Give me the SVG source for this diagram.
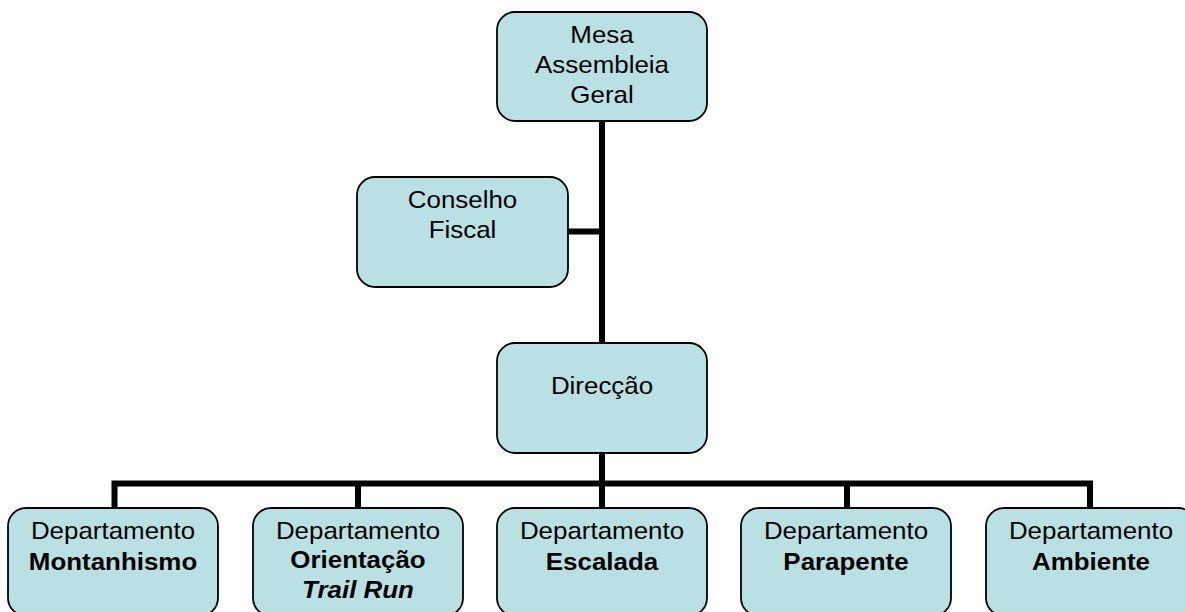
<svg xmlns="http://www.w3.org/2000/svg" width="1185" height="612" viewBox="0 0 1185 612">
<style>
.box{fill:#B9E0E3;stroke:#000;stroke-width:1.8}
.t{font-family:"Liberation Sans",Arial,sans-serif;font-size:24px;fill:#000;text-anchor:middle}
.b{font-weight:bold}
.i{font-style:italic;font-weight:bold}
.c{fill:none;stroke:#000;stroke-width:6;stroke-linecap:butt}
</style>
<rect width="1185" height="612" fill="#fff"/>
<g id="connectors">
<path class="c" d="M602 121 V343 M602 453 V486.5"/>
<path class="c" d="M568 231.5 H602"/>
<path class="c" d="M114.5 508 V483.5 H1090 V508 M358 483.5 V508 M602 483.5 V508 M847 483.5 V508"/>
</g>
<g id="mesa">
<rect class="box" x="497" y="12" width="210" height="109" rx="18"/>
<text class="t" transform="translate(602,0) scale(1.08,1)"><tspan x="0" y="43">Mesa</tspan><tspan x="0" y="73">Assembleia</tspan><tspan x="0" y="103">Geral</tspan></text>
</g>
<g id="conselho">
<rect class="box" x="357" y="177" width="211" height="110" rx="18"/>
<text class="t" transform="translate(462.5,0) scale(1.08,1)"><tspan x="0" y="208">Conselho</tspan><tspan x="0" y="238">Fiscal</tspan></text>
</g>
<g id="direccao">
<rect class="box" x="497" y="343" width="210" height="110" rx="18"/>
<text class="t" transform="translate(602,0) scale(1.08,1)"><tspan x="0" y="394">Direcção</tspan></text>
</g>
<g id="montanhismo">
<rect class="box" x="8" y="508" width="210" height="108" rx="18"/>
<text class="t" transform="translate(113,0) scale(1.08,1)"><tspan x="0" y="539">Departamento</tspan><tspan class="b" x="0" y="570">Montanhismo</tspan></text>
</g>
<g id="orientacao">
<rect class="box" x="253" y="508" width="210" height="108" rx="18"/>
<text class="t" transform="translate(358,0) scale(1.08,1)"><tspan x="0" y="539">Departamento</tspan><tspan class="b" x="0" y="568">Orientação</tspan><tspan class="i" x="0" y="598">Trail Run</tspan></text>
</g>
<g id="escalada">
<rect class="box" x="497" y="508" width="210" height="108" rx="18"/>
<text class="t" transform="translate(602,0) scale(1.08,1)"><tspan x="0" y="539">Departamento</tspan><tspan class="b" x="0" y="570">Escalada</tspan></text>
</g>
<g id="parapente">
<rect class="box" x="741" y="508" width="210" height="108" rx="18"/>
<text class="t" transform="translate(846,0) scale(1.08,1)"><tspan x="0" y="539">Departamento</tspan><tspan class="b" x="0" y="570">Parapente</tspan></text>
</g>
<g id="ambiente">
<rect class="box" x="986" y="508" width="210" height="108" rx="18"/>
<text class="t" transform="translate(1091,0) scale(1.08,1)"><tspan x="0" y="539">Departamento</tspan><tspan class="b" x="0" y="570">Ambiente</tspan></text>
</g>
</svg>
